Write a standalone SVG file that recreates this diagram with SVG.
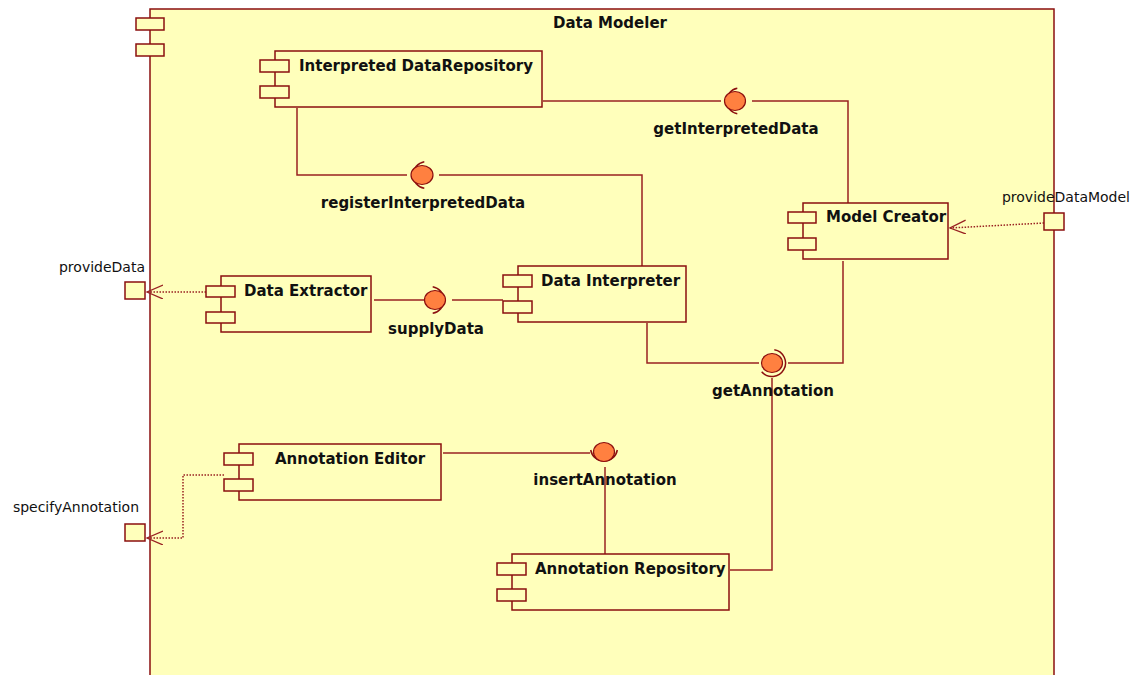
<svg xmlns="http://www.w3.org/2000/svg" width="1137" height="675" viewBox="0 0 1137 675">
  <style>
    .comp { fill: #ffffbb; stroke: #8b0f0f; stroke-width: 1.5; }
    .tab { fill: #ffffbb; stroke: #8b0f0f; stroke-width: 1.5; }
    .name { font-family: "DejaVu Sans", Verdana, sans-serif; font-size: 15px; font-weight: bold; fill: #111; }
    .port-label { font-family: "DejaVu Sans", Verdana, sans-serif; font-size: 14px; fill: #111; }
    .wire { fill: none; stroke: #992222; stroke-width: 1.5; }
    .dep { fill: none; stroke: #992222; stroke-width: 1.5; stroke-dasharray: 1.5 1.5; }
    .ball { fill: #ff8040; stroke: #8b0f0f; stroke-width: 1.2; }
    .socket { fill: none; stroke: #8b0f0f; stroke-width: 1.5; }
  </style>
  <defs>
    <marker id="open-arrow" markerUnits="userSpaceOnUse" markerWidth="18" markerHeight="16" refX="16" refY="7" orient="auto">
      <path d="M0,0 L16,7 L0,14" fill="none" stroke="#992222" stroke-width="1.3"/>
    </marker>
  </defs>

  <!-- Enclosing component -->
  <g id="data-modeler">
    <rect class="comp" x="150" y="9" width="904" height="680"/>
    <rect class="tab" x="136" y="18" width="28" height="12"/>
    <rect class="tab" x="136" y="44" width="28" height="12"/>
    <text class="name" x="610" y="28" text-anchor="middle">Data Modeler</text>
  </g>

  <!-- Connectors -->
  <g id="connectors">
    <!-- getInterpretedData -->
    <polyline class="wire" points="543,101 721,101"/>
    <polyline class="wire" points="752,101 848,101 848,203"/>
    <!-- registerInterpretedData -->
    <polyline class="wire" points="297,108 297,175 407,175"/>
    <polyline class="wire" points="439,175 642,175 642,266"/>
    <!-- supplyData -->
    <polyline class="wire" points="374,300 424,300"/>
    <polyline class="wire" points="452,300 503,300"/>
    <!-- getAnnotation -->
    <polyline class="wire" points="647,323 647,363 759,363"/>
    <polyline class="wire" points="788,363 843,363 843,261"/>
    <polyline class="wire" points="772,378 772,570 730,570"/>
    <!-- insertAnnotation -->
    <polyline class="wire" points="443,453 590,453"/>
    <polyline class="wire" points="605,467 605,554"/>
    <!-- port delegations -->
    <polyline class="dep" points="206,292 147,292" marker-end="url(#open-arrow)"/>
    <polyline class="dep" points="224,475 183,475 183,538 147,538" marker-end="url(#open-arrow)"/>
    <polyline class="dep" points="1044,223 950,228" marker-end="url(#open-arrow)"/>
  </g>

  <!-- Interfaces (ball and socket) -->
  <g id="if-getInterpretedData">
    <path class="socket" d="M737.3,88.2 A13,13 0 0 0 737.3,113.8"/>
    <ellipse class="ball" cx="735" cy="101" rx="10.5" ry="9.5"/>
    <text class="name" x="736" y="134" text-anchor="middle">getInterpretedData</text>
  </g>
  <g id="if-registerInterpretedData">
    <path class="socket" d="M424.3,161.7 A13.5,13.5 0 0 0 424.3,188.3"/>
    <ellipse class="ball" cx="422" cy="175" rx="11" ry="9.5"/>
    <text class="name" x="423" y="208" text-anchor="middle">registerInterpretedData</text>
  </g>
  <g id="if-supplyData">
    <path class="socket" d="M432.7,286.7 A13.5,13.5 0 0 1 432.7,313.3"/>
    <ellipse class="ball" cx="435" cy="300" rx="10.5" ry="9.5"/>
    <text class="name" x="436" y="334" text-anchor="middle">supplyData</text>
  </g>
  <g id="if-getAnnotation">
    <path class="socket" d="M774.3,349.7 A13.5,13.5 0 1 1 761.7,371.7"/>
    <ellipse class="ball" cx="772" cy="363" rx="10.5" ry="9.5"/>
    <text class="name" x="773" y="396" text-anchor="middle">getAnnotation</text>
  </g>
  <g id="if-insertAnnotation">
    <path class="socket" d="M590.7,450 A13.5,13.5 0 0 0 617.3,450"/>
    <ellipse class="ball" cx="604" cy="452" rx="10.5" ry="9.5"/>
    <text class="name" x="605" y="485" text-anchor="middle">insertAnnotation</text>
  </g>

  <!-- Components -->
  <g id="interpreted-data-repository">
    <rect class="comp" x="275" y="51" width="267" height="56"/>
    <rect class="tab" x="260" y="60" width="29" height="12"/>
    <rect class="tab" x="260" y="86" width="29" height="12"/>
    <text class="name" x="299" y="71">Interpreted DataRepository</text>
  </g>
  <g id="model-creator">
    <rect class="comp" x="803" y="203" width="145" height="56"/>
    <rect class="tab" x="788" y="212" width="28" height="11"/>
    <rect class="tab" x="788" y="238" width="28" height="12"/>
    <text class="name" x="826" y="222">Model Creator</text>
  </g>
  <g id="data-extractor">
    <rect class="comp" x="221" y="276" width="150" height="56"/>
    <rect class="tab" x="206" y="286" width="29" height="11"/>
    <rect class="tab" x="206" y="312" width="29" height="11"/>
    <text class="name" x="244" y="296">Data Extractor</text>
  </g>
  <g id="data-interpreter">
    <rect class="comp" x="518" y="266" width="168" height="56"/>
    <rect class="tab" x="503" y="275" width="29" height="12"/>
    <rect class="tab" x="503" y="301" width="29" height="12"/>
    <text class="name" x="541" y="286">Data Interpreter</text>
  </g>
  <g id="annotation-editor">
    <rect class="comp" x="239" y="444" width="202" height="56"/>
    <rect class="tab" x="224" y="453" width="29" height="12"/>
    <rect class="tab" x="224" y="479" width="29" height="12"/>
    <text class="name" x="275" y="464">Annotation Editor</text>
  </g>
  <g id="annotation-repository">
    <rect class="comp" x="512" y="554" width="217" height="56"/>
    <rect class="tab" x="497" y="563" width="29" height="12"/>
    <rect class="tab" x="497" y="589" width="29" height="12"/>
    <text class="name" x="535" y="574">Annotation Repository</text>
  </g>

  <!-- Ports -->
  <g id="port-provideData">
    <rect class="tab" x="125" y="282" width="20" height="17"/>
    <text class="port-label" x="145" y="272" text-anchor="end">provideData</text>
  </g>
  <g id="port-specifyAnnotation">
    <rect class="tab" x="125" y="524" width="20" height="17"/>
    <text class="port-label" x="139" y="512" text-anchor="end">specifyAnnotation</text>
  </g>
  <g id="port-provideDataModel">
    <rect class="tab" x="1044" y="213" width="20" height="17"/>
    <text class="port-label" x="1066" y="202" text-anchor="middle">provideDataModel</text>
  </g>
</svg>
